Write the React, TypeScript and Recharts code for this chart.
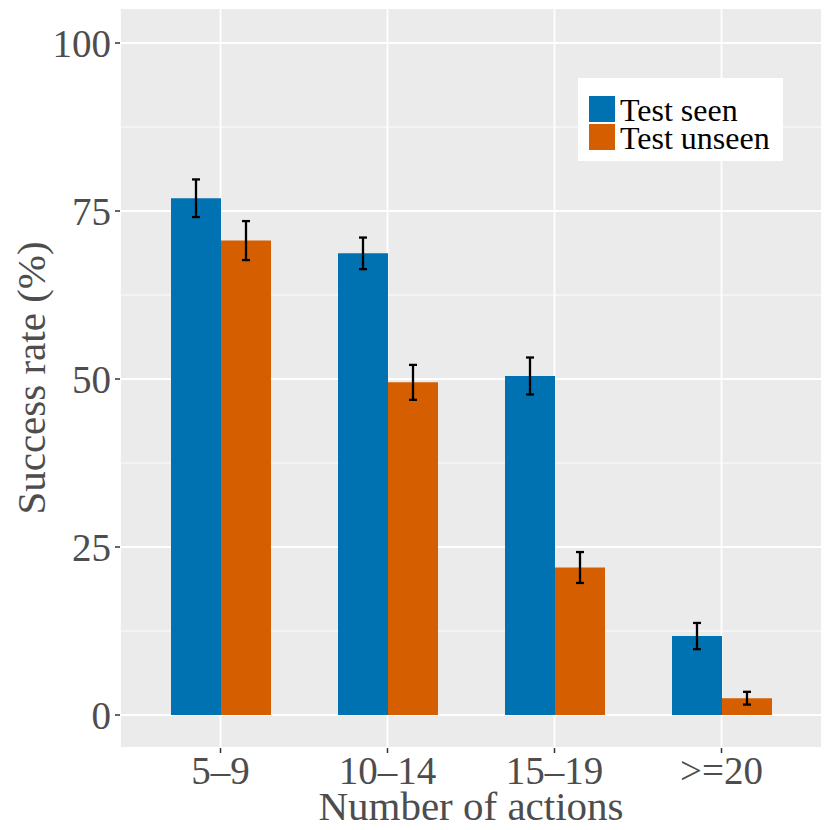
import { BarChart, Bar, XAxis, YAxis, CartesianGrid, ErrorBar } from "recharts"

// Success rate (%) by number of actions, with error margins.
const categories = ["5–9", "10–14", "15–19", ">=20"]
const seenRate = [76.9, 68.7, 50.45, 11.75]
const seenErr = [2.8, 2.35, 2.75, 1.95]
const unseenRate = [70.6, 49.5, 21.95, 2.5]
const unseenErr = [2.9, 2.6, 2.3, 0.95]

const yTicks = [0, 25, 50, 75, 100]
const yMinorTicks = [12.5, 37.5, 62.5, 87.5]

const SEEN_COLOR = "#0072B2"
const UNSEEN_COLOR = "#D55E00"
const FONT = "'Liberation Serif', 'Times New Roman', serif"
const TEXT_GRAY = "#4D4D4D"

const data = categories.map((range, i) => ({
	range,
	seen: seenRate[i],
	seenErr: seenErr[i],
	unseen: unseenRate[i],
	unseenErr: unseenErr[i],
}))

const legendItems = [
	{ label: "Test seen", color: SEEN_COLOR },
	{ label: "Test unseen", color: UNSEEN_COLOR },
]

function LegendBox() {
	return (
		<div
			style={{
				position: "absolute",
				left: 578,
				top: 78,
				width: 205,
				height: 83,
				background: "#fff",
				boxSizing: "border-box",
				paddingTop: 18,
				paddingLeft: 11,
				fontFamily: FONT,
			}}
		>
			{legendItems.map((it) => (
				<div key={it.label} style={{ display: "flex", height: 28, alignItems: "flex-start" }}>
					<div style={{ width: 26, height: 26, background: it.color, flex: "none" }} />
					<span style={{ marginLeft: 5, fontSize: 32, lineHeight: "28px", color: "#000", whiteSpace: "nowrap" }}>
						{it.label}
					</span>
				</div>
			))}
		</div>
	)
}

export default function App() {
	return (
		<div style={{ position: "absolute", left: 0, top: 0, width: 830, height: 830, background: "#fff" }}>
			<BarChart
				width={830}
				height={830}
				data={data}
				margin={{ top: 8, right: 8, bottom: 0, left: 0 }}
				barGap={0}
				barSize={50}
			>
				<CartesianGrid fill="#EBEBEB" fillOpacity={1} stroke="#fff" strokeWidth={1.8} />
				<CartesianGrid
					stroke="#fff"
					strokeWidth={0.9}
					vertical={false}
					horizontalValues={yMinorTicks}
				/>
				<XAxis
					dataKey="range"
					height={82}
					padding={{ left: 17, right: 17 }}
					axisLine={false}
					tickLine={{ stroke: "#333", strokeWidth: 1.5 }}
					tickSize={5}
					tickMargin={3}
					tick={{ fontSize: 39, fill: TEXT_GRAY, fontFamily: FONT }}
					label={{
						value: "Number of actions",
						position: "insideBottom",
						offset: 10,
						style: { fontSize: 41, fill: TEXT_GRAY, fontFamily: FONT },
					}}
				/>
				<YAxis
					width={120}
					type="number"
					domain={[-4.91, 105.21]}
					ticks={yTicks}
					allowDataOverflow
					axisLine={false}
					tickLine={{ stroke: "#333", strokeWidth: 1.5 }}
					tickSize={5}
					tickMargin={4}
					tick={{ fontSize: 39, fill: TEXT_GRAY, fontFamily: FONT }}
					label={{
						value: "Success rate (%)",
						angle: -90,
						position: "insideLeft",
						offset: 30,
						style: { fontSize: 41, fill: TEXT_GRAY, fontFamily: FONT, textAnchor: "middle" },
					}}
				/>
				<Bar dataKey="seen" fill={SEEN_COLOR} isAnimationActive={false}>
					<ErrorBar dataKey="seenErr" width={4} stroke="#000" strokeWidth={2.3} />
				</Bar>
				<Bar dataKey="unseen" fill={UNSEEN_COLOR} isAnimationActive={false}>
					<ErrorBar dataKey="unseenErr" width={4} stroke="#000" strokeWidth={2.3} />
				</Bar>
			</BarChart>
			<LegendBox />
		</div>
	)
}
